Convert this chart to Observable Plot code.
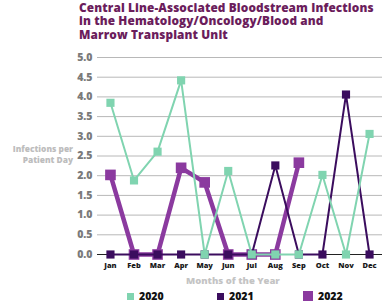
<!DOCTYPE html>
<html><head><meta charset="utf-8">
<script src="https://cdn.jsdelivr.net/npm/d3@7"></script>
<script src="https://cdn.jsdelivr.net/npm/@observablehq/plot@0.6"></script>
<style>
body{margin:0;background:#fff;font-family:"Open Sans",sans-serif;}
#wrap{position:relative;width:383px;height:302px;overflow:hidden;}
#title{position:absolute;left:79px;top:1px;font-weight:800;font-size:11.8px;line-height:13.3px;color:#6b1d5c;letter-spacing:0.12px;white-space:nowrap;}
#chart{position:absolute;left:0;top:42px;}
#ylab{position:absolute;left:0;width:73px;top:144px;text-align:right;font-weight:800;font-size:8.4px;line-height:10.5px;color:#bdbdbd;}
#xlab{position:absolute;left:186px;top:274px;font-weight:800;font-size:9.5px;color:#c4c4c4;white-space:nowrap;}
.leg{position:absolute;top:289px;font-weight:800;font-size:10.5px;color:#111;line-height:14px;white-space:nowrap;}
.sw{display:inline-block;vertical-align:middle;margin-right:5px;position:relative;top:-1px;}
</style></head>
<body><div id="wrap">
<div id="title">Central Line-Associated Bloodstream Infections<br>in the Hematology/Oncology/Blood and<br>Marrow Transplant Unit</div>
<div id="chart"></div>
<div id="ylab">Infections per<br>Patient Day</div>
<div id="xlab">Months of the Year</div>
<div id="legend"></div>
</div>
<script>
const months = ["Jan","Feb","Mar","Apr","May","Jun","Jul","Aug","Sep","Oct","Nov","Dec"];
const years = ["2020","2021","2022"];
const v2020 = [3.85,1.88,2.61,4.42,0,2.12,0,0,0,2.02,0,3.06];
const v2021 = [0,0,0,0,0,0,0,2.26,0,0,4.06,0];
const v2022 = [2.02,0,0,2.2,1.83,0,0,0,2.33];
const colors = {"2020":"#80d4b0","2021":"#3b0d5e","2022":"#8b3a9f"};
const yTicks = [0,0.5,1,1.5,2,2.5,3,3.5,4,4.5,5];

const rows = y => (y==="2020"?v2020:y==="2021"?v2021:v2022).map((v,i)=>({m:months[i],v,year:y}));
const d20 = rows("2020"), d21 = rows("2021"), d22 = rows("2022");

const chart = Plot.plot({
  width:383, height:246,
  marginLeft:97, marginRight:1, marginTop:15, marginBottom:34,
  style:{fontFamily:"Open Sans, sans-serif", background:"#fff"},
  x:{type:"point", domain:months, padding:0.55, round:false, label:null},
  y:{domain:[0,5], label:null},
  marks:[
    Plot.ruleY(yTicks.filter(d=>d>0), {stroke:"#b8b8b8", strokeWidth:1}),
    Plot.ruleY([0], {stroke:"#222", strokeWidth:1.2}),
    Plot.axisY({ticks:yTicks, tickFormat:d3.format(".1f"), tickSize:0, tickPadding:5, fill:"#7a7a7a", fontWeight:800, fontSize:10.5, label:null}),
    Plot.axisX({tickSize:0, tickPadding:8, fill:"#1a1a1a", fontWeight:800, fontSize:7.5, label:null}),
    Plot.line(d22, {x:"m", y:"v", stroke:colors["2022"], strokeWidth:4.5, strokeLinejoin:"round"}),
    Plot.dot(d22, {x:"m", y:"v", symbol:"square", r:6, fill:colors["2022"], stroke:"none"}),
    Plot.line(d21, {x:"m", y:"v", stroke:colors["2021"], strokeWidth:2}),
    Plot.dot(d21, {x:"m", y:"v", symbol:"square", r:4.6, fill:colors["2021"], stroke:"none"}),
    Plot.line(d20, {x:"m", y:"v", stroke:colors["2020"], strokeWidth:2}),
    Plot.dot(d20, {x:"m", y:"v", symbol:"square", r:4.6, fill:colors["2020"], stroke:"none"})
  ]
});
document.getElementById("chart").appendChild(chart);

const legPos = {"2020":[127,7],"2021":[217,7],"2022":[303,10]};
const leg = document.getElementById("legend");
years.forEach(y=>{
  const d = document.createElement("div");
  d.className="leg";
  d.style.left = legPos[y][0]+"px";
  const s = legPos[y][1];
  d.innerHTML = `<span class="sw" style="width:${s}px;height:${s}px;background:${colors[y]}"></span>${y}`;
  leg.appendChild(d);
});
</script>
</body></html>
